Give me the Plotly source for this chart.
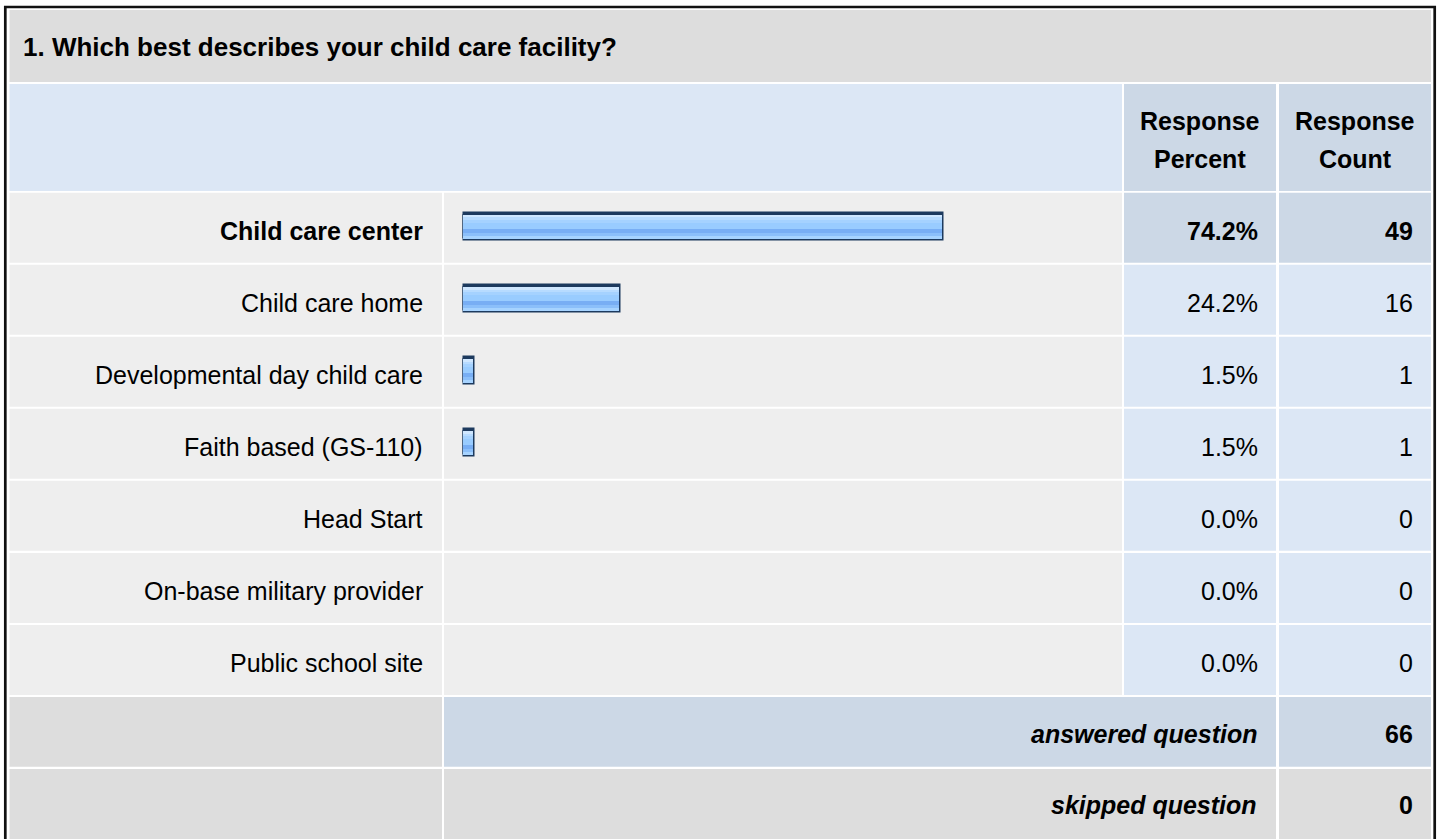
import plotly.graph_objects as go

# ---------------- data ----------------
question = "1. Which best describes your child care facility?"
categories = [
    "Child care center",
    "Child care home",
    "Developmental day child care",
    "Faith based (GS-110)",
    "Head Start",
    "On-base military provider",
    "Public school site",
]
percents = [74.2, 24.2, 1.5, 1.5, 0.0, 0.0, 0.0]
counts = [49, 16, 1, 1, 0, 0, 0]
header_percent = ["Response", "Percent"]
header_count = ["Response", "Count"]
answered_label = "answered question"
answered_count = 66
skipped_label = "skipped question"
skipped_count = 0

# ---------------- layout constants (pixels) ----------------
W, H = 1440, 839
FONT = "Liberation Sans, Arial, Helvetica, sans-serif"
FS = 25

C1 = (9.5, 442)      # label column
C2 = (444, 1122)     # bar column
C3 = (1124, 1276)    # percent column
C4 = (1279, 1431)    # count column

ROW0 = 192.7
PITCH = 72.04
ROWH = 70.0

GRAY_T = "#DDDDDD"
ROW_BG = "#EEEEEE"
BLUE_L = "#DCE7F5"
BLUE_D = "#CCD8E6"

shapes = []
annotations = []


def px(x):
    return x / W


def py(y):
    return 1 - y / H


def rect(x0, y0, x1, y1, color):
    shapes.append(dict(type="rect", xref="paper", yref="paper",
                       x0=px(x0), x1=px(x1), y0=py(y1), y1=py(y0),
                       fillcolor=color, line=dict(width=0), layer="below"))


def text(t, x, y, anchor="right", size=FS):
    annotations.append(dict(text=t, xref="paper", yref="paper",
                            x=px(x), y=py(y), xanchor=anchor, yanchor="middle",
                            showarrow=False, borderpad=0,
                            font=dict(family=FONT, size=size, color="#000000")))


# title row
rect(C1[0], 10, C4[1], 82, GRAY_T)
text("<b>" + question + "</b>", 22, 47, "left", size=26)

# header row
rect(C1[0], 84, C2[1], 191, BLUE_L)
rect(C3[0], 84, C3[1], 191, BLUE_D)
rect(C4[0], 84, C4[1], 191, BLUE_D)
text("<b>" + header_percent[0] + "</b>", (C3[0] + C3[1]) / 2, 121, "center")
text("<b>" + header_percent[1] + "</b>", (C3[0] + C3[1]) / 2, 159, "center")
text("<b>" + header_count[0] + "</b>", (C4[0] + C4[1]) / 2, 121, "center")
text("<b>" + header_count[1] + "</b>", (C4[0] + C4[1]) / 2, 159, "center")

# data rows
top_idx = percents.index(max(percents))
for i, (cat, p, c) in enumerate(zip(categories, percents, counts)):
    t0 = ROW0 + PITCH * i
    t1 = t0 + ROWH
    cy = (t0 + t1) / 2 + 3
    emph = i == top_idx
    rect(C1[0], t0, C1[1], t1, ROW_BG)
    rect(C2[0], t0, C2[1], t1, ROW_BG)
    rect(C3[0], t0, C3[1], t1, BLUE_D if emph else BLUE_L)
    rect(C4[0], t0, C4[1], t1, BLUE_D if emph else BLUE_L)
    wrap = (lambda s: "<b>" + s + "</b>") if emph else (lambda s: s)
    text(wrap(cat), 424, cy)
    text(wrap(f"{p:.1f}%"), 1259, cy)
    text(wrap(str(c)), 1414, cy)

# answered row
a0, a1 = 697, 766.7
rect(C1[0], a0, C1[1], a1, GRAY_T)
rect(C2[0], a0, C3[1], a1, BLUE_D)
rect(C4[0], a0, C4[1], a1, BLUE_D)
text("<b><i>" + answered_label + "</i></b>", 1258, (a0 + a1) / 2 + 2)
text("<b>" + str(answered_count) + "</b>", 1414, (a0 + a1) / 2 + 2)

# skipped row
s0, s1 = 769, 845
rect(C1[0], s0, C1[1], s1, GRAY_T)
rect(C2[0], s0, C3[1], s1, GRAY_T)
rect(C4[0], s0, C4[1], s1, GRAY_T)
text("<b><i>" + skipped_label + "</i></b>", 1258, 805)
text("<b>" + str(skipped_count) + "</b>", 1414, 805)

# outer frame
shapes.append(dict(type="rect", xref="paper", yref="paper",
                   x0=px(5.3), x1=px(1434.7), y0=py(860), y1=py(7),
                   fillcolor="rgba(0,0,0,0)", line=dict(color="#111111", width=2.7),
                   layer="above"))

# ---------------- bars ----------------
fig = go.Figure()

BAR_IN = 23.7          # inner bar height, px
BAR_SHIFT = -1.0       # bar centre relative to row centre, px
LINE_W = 5
bar_top = BAR_SHIFT - BAR_IN / 2
outline_w = [LINE_W if p > 0 else 0 for p in percents]

# dark outline bar
fig.add_trace(go.Bar(
    x=percents, y=categories, orientation="h",
    width=BAR_IN / PITCH, offset=bar_top / PITCH,
    marker=dict(color="#1D3A5E", line=dict(color="#1D3A5E", width=outline_w)),
    hoverinfo="skip", showlegend=False,
))

# glossy stripes (top offset px, height px, colour)
stripes = [
    (0.0, 2.4, "#CFE7FF"),
    (2.3, 2.8, "#B7DBFF"),
    (5.0, 3.1, "#A5D2FF"),
    (8.0, 5.6, "#99CCFF"),
    (13.5, 4.1, "#78AEF4"),
    (17.5, 3.1, "#8BBFFA"),
    (20.5, 3.2, "#A6D3FF"),
]
for s_top, s_h, col in stripes:
    fig.add_trace(go.Bar(
        x=percents, y=categories, orientation="h",
        width=s_h / PITCH, offset=(bar_top + s_top) / PITCH,
        marker=dict(color=col, line=dict(width=0)),
        hoverinfo="skip", showlegend=False,
    ))

y_top = ROW0 - 1.2
y_bot = ROW0 + PITCH * len(categories) - 1.2
x0_px = 460 + LINE_W / 2
x100_px = x0_px + 6.46 * 100

fig.update_layout(
    width=W, height=H,
    margin=dict(l=0, r=0, t=0, b=0),
    paper_bgcolor="#FFFFFF", plot_bgcolor="rgba(0,0,0,0)",
    barmode="overlay", bargap=0,
    shapes=shapes, annotations=annotations,
    xaxis=dict(domain=[px(x0_px), px(x100_px)], range=[0, 100],
               visible=False, fixedrange=True),
    yaxis=dict(domain=[py(y_bot), py(y_top)], type="category",
               categoryorder="array", categoryarray=categories,
               range=[len(categories) - 0.5, -0.5],
               visible=False, fixedrange=True),
    showlegend=False,
)

fig.write_html(
    "out.html",
    config={"displayModeBar": False},
    post_script="document.body.style.margin='0';document.body.style.padding='0';"
                "document.body.style.overflow='hidden';",
)
